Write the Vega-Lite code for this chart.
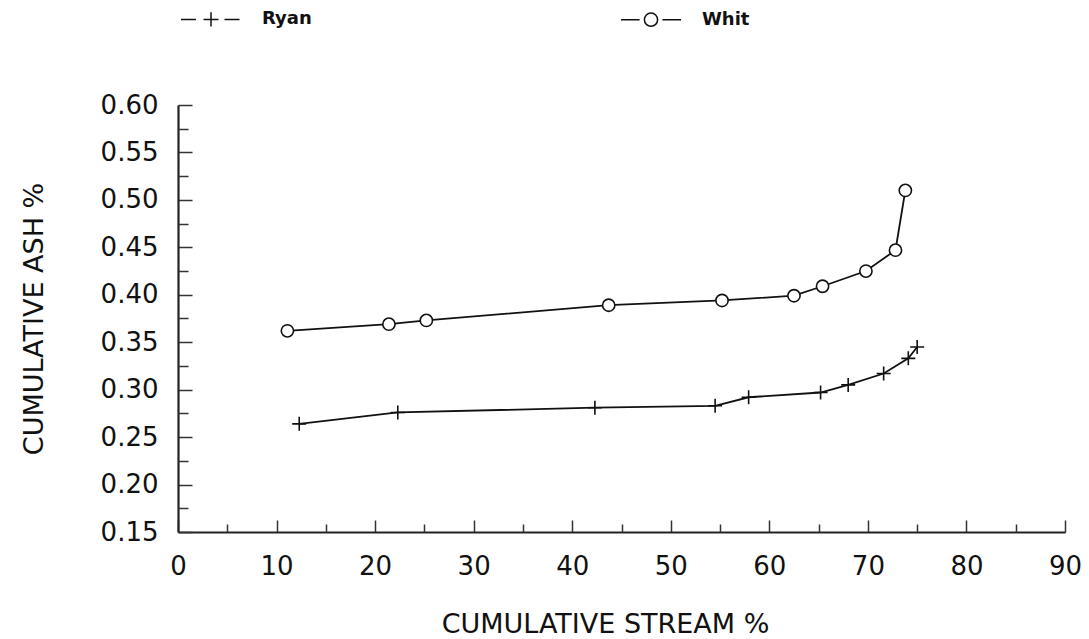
{
  "$schema": "https://vega.github.io/schema/vega-lite/v6.json",
  "width": 887,
  "height": 427,
  "autosize": "none",
  "padding": {"left": 178, "top": 105, "right": 24, "bottom": 107},
  "background": "white",
  "config": {
    "view": {"stroke": null},
    "axis": {
      "grid": false,
      "labelFont": "DejaVu Sans",
      "labelFontSize": 26,
      "labelColor": "#111",
      "titleFont": "DejaVu Sans",
      "titleFontSize": 27,
      "titleFontWeight": "normal",
      "titleColor": "#111",
      "domainColor": "#222",
      "tickColor": "#333",
      "tickWidth": 1.5
    }
  },
  "data": {
    "values": [
      {"series": "Ryan", "stream": 12.3, "ash": 0.264},
      {"series": "Ryan", "stream": 22.3, "ash": 0.276},
      {"series": "Ryan", "stream": 42.3, "ash": 0.281},
      {"series": "Ryan", "stream": 54.5, "ash": 0.283},
      {"series": "Ryan", "stream": 57.9, "ash": 0.292},
      {"series": "Ryan", "stream": 65.2, "ash": 0.297},
      {"series": "Ryan", "stream": 68.0, "ash": 0.305},
      {"series": "Ryan", "stream": 71.6, "ash": 0.317},
      {"series": "Ryan", "stream": 74.1, "ash": 0.333},
      {"series": "Ryan", "stream": 75.0, "ash": 0.345},
      {"series": "Whit", "stream": 11.1, "ash": 0.362},
      {"series": "Whit", "stream": 21.4, "ash": 0.369},
      {"series": "Whit", "stream": 25.2, "ash": 0.373},
      {"series": "Whit", "stream": 43.7, "ash": 0.389},
      {"series": "Whit", "stream": 55.2, "ash": 0.394},
      {"series": "Whit", "stream": 62.5, "ash": 0.399},
      {"series": "Whit", "stream": 65.4, "ash": 0.409},
      {"series": "Whit", "stream": 69.8, "ash": 0.425},
      {"series": "Whit", "stream": 72.8, "ash": 0.447},
      {"series": "Whit", "stream": 73.8, "ash": 0.510}
    ]
  },
  "layer": [
    {
      "mark": {"type": "line", "color": "#111", "strokeWidth": 1.8},
      "encoding": {
        "x": {
          "field": "stream", "type": "quantitative",
          "scale": {"domain": [0, 90], "nice": false, "zero": false},
          "axis": {
            "orient": "bottom",
            "values": [0, 10, 20, 30, 40, 50, 60, 70, 80, 90],
            "ticks": true,
            "tickSize": -12,
            "domain": true,
            "domainWidth": 2.2,
            "labelPadding": 33,
            "labelFlush": false,
            "title": "CUMULATIVE STREAM %",
            "titleX": 427,
            "titleY": 100,
            "titleAlign": "center",
            "titleBaseline": "alphabetic"
          }
        },
        "y": {
          "field": "ash", "type": "quantitative",
          "scale": {"domain": [0.15, 0.6], "nice": false, "zero": false},
          "axis": {
            "orient": "left",
            "values": [0.15, 0.2, 0.25, 0.3, 0.35, 0.4, 0.45, 0.5, 0.55, 0.6],
            "format": ".2f",
            "ticks": true,
            "tickSize": -14,
            "domain": true,
            "domainWidth": 2.2,
            "labelPadding": 34,
            "labelFlush": false,
            "title": "CUMULATIVE ASH %",
            "titleX": -136,
            "titleY": 213.5,
            "titleAngle": -90,
            "titleAlign": "center",
            "titleBaseline": "alphabetic"
          }
        },
        "detail": {"field": "series", "type": "nominal"}
      }
    },
    {
      "transform": [{"filter": "datum.series === 'Ryan'"}],
      "mark": {"type": "point", "shape": "M-1,0H1M0,-1V1", "filled": false, "fill": "white", "stroke": "#111", "strokeWidth": 1.6, "opacity": 1, "size": 196},
      "encoding": {
        "x": {
          "field": "stream", "type": "quantitative",
          "axis": {
            "orient": "bottom",
            "values": [5, 15, 25, 35, 45, 55, 65, 75, 85],
            "tickSize": -8,
            "labels": false,
            "domain": false,
            "title": null
          }
        },
        "y": {
          "field": "ash", "type": "quantitative",
          "axis": {
            "orient": "left",
            "values": [0.175, 0.225, 0.275, 0.325, 0.375, 0.425, 0.475, 0.525, 0.575],
            "tickSize": -10,
            "labels": false,
            "domain": false,
            "title": null
          }
        }
      }
    },
    {
      "transform": [{"filter": "datum.series === 'Whit'"}],
      "mark": {"type": "point", "shape": "circle", "filled": false, "fill": "white", "stroke": "#111", "strokeWidth": 1.6, "opacity": 1, "size": 150},
      "encoding": {
        "x": {"field": "stream", "type": "quantitative", "axis": null},
        "y": {"field": "ash", "type": "quantitative", "axis": null}
      }
    },
    {
      "mark": {"type": "point", "filled": false, "stroke": "#111", "strokeWidth": 1.5, "size": 0},
      "encoding": {
        "x": {"field": "stream", "type": "quantitative", "axis": null},
        "y": {"field": "ash", "type": "quantitative", "axis": null},
        "shape": {
          "field": "series", "type": "nominal",
          "scale": {"domain": ["Ryan", "Whit"], "range": ["M-1,0H-0.5M0.45,0H0.95M-0.25,0H0.25M0,-0.24V0.24", "M-1,0H-0.38M0.38,0H1M0.22,0A0.22,0.22,0,1,1,-0.22,0A0.22,0.22,0,1,1,0.22,0"]},
          "legend": {
            "title": null,
            "orient": "none",
            "legendX": 2,
            "legendY": -117,
            "direction": "horizontal",
            "padding": 0,
            "symbolSize": 3600,
            "symbolStrokeWidth": 1.5,
            "symbolStrokeColor": "#111",
            "symbolOpacity": 1,
            "labelOffset": 20,
            "columnPadding": 306,
            "labelFont": "DejaVu Sans",
            "labelFontSize": 18,
            "labelFontWeight": "bold",
            "labelColor": "#111"
          }
        }
      }
    }
  ],
  "resolve": {"axis": {"x": "independent", "y": "independent"}}
}
